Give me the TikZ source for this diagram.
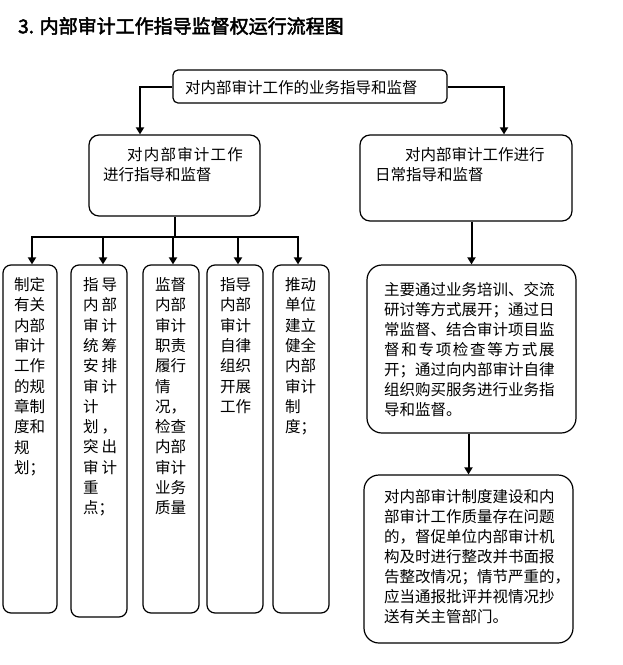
\documentclass[tikz,border=0pt]{standalone}
\usepackage{fontspec}
\setmainfont{Liberation Serif}
\newfontfamily\cjk{Noto Sans CJK SC}
\newfontfamily\cjkb[FakeBold=2.5]{Noto Sans CJK SC}
\usetikzlibrary{arrows.meta}
\newcommand{\spreadchars}[2]{\def\spk{#1}\spreadloop#2\relax}
\def\spreadloop#1#2{#1\ifx\relax#2\else\kern\spk\expandafter\spreadloop\expandafter#2\fi}
\begin{document}
\begin{tikzpicture}[x=1pt,y=-1pt,
  box/.style={draw, line width=1.2pt, rounded corners=#1, inner sep=0pt},
  box/.default=8pt,
  txt/.style={inner sep=0pt, align=left, font=\cjk\fontsize{15.5}{20}\selectfont},
  vtxt/.style={inner sep=0pt, align=left, font=\cjk\fontsize{15.5}{20.3}\selectfont},
  conn/.style={line width=2pt},
  arr/.style={line width=2pt, -{Triangle[length=7pt,width=8pt]}}]
\useasboundingbox (0,0) rectangle (623,665);
\fill[white] (0,0) rectangle (623,665);

% title
\node[anchor=west, inner sep=0pt, font=\cjkb\fontsize{19}{19}\selectfont] (title) at (18,26) {3. 内部审计工作指导监督权运行流程图};

% top box
\node[box=5pt, minimum width=274pt, minimum height=33pt] (T) at (310,86.5) {};
\node[txt, anchor=west] (Tt) at (185,88) {对内部审计工作的业务指导和监督};

% second level
\node[box=10pt, minimum width=171pt, minimum height=81pt] (B2) at (174.5,175.5) {};
\node[txt, anchor=north west] (B2t) at (103,147.3) {\hspace*{24pt}\spreadchars{1.2pt}{对内部审计工作}\\进行指导和监督};

\node[box=10pt, minimum width=212pt, minimum height=86pt] (B3) at (466,178) {};
\node[txt, anchor=north west] (B3t) at (375,147.3) {\hspace*{30pt}对内部审计工作进行\\日常指导和监督};

% right column
\node[box=15pt, minimum width=209pt, minimum height=168pt] (B4) at (471.5,349) {};
\node[txt, anchor=north west] (B4t) at (384,282.3) {主要通过业务培训、交流\\研讨等方式展开；通过日\\常监督、结合审计项目监\\\spreadchars{1.7pt}{督和专项检查等方式展}\\开；通过向内部审计自律\\组织购买服务进行业务指\\导和监督。};

\node[box=15pt, minimum width=209pt, minimum height=168pt] (B5) at (468.5,559) {};
\node[txt, anchor=north west] (B5t) at (384,489.3) {对内部审计制度建设和内\\部审计工作质量存在问题\\的，督促单位内部审计机\\构及时进行整改并书面报\\告整改情况；情节严重的，\\应当通报批评并视情况抄\\送有关主管部门。};

% vertical boxes
\node[box=8pt, minimum width=54pt, minimum height=348pt] (V1) at (30,439) {};
\node[box=8pt, minimum width=56pt, minimum height=352pt] (V2) at (99,441) {};
\node[box=8pt, minimum width=56pt, minimum height=348pt] (V3) at (171,439) {};
\node[box=8pt, minimum width=56pt, minimum height=348pt] (V4) at (235,439) {};
\node[box=8pt, minimum width=56pt, minimum height=348pt] (V5) at (301,439) {};

\node[vtxt, anchor=north west] (V1t) at (14,277.3) {制定\\有关\\内部\\审计\\工作\\的规\\章制\\度和\\规\\划；};
\node[vtxt, anchor=north west] (V2t) at (83,277.3) {指\kern3pt 导\\内\kern3pt 部\\审\kern3pt 计\\统\kern3pt 筹\\安\kern3pt 排\\审\kern3pt 计\\计\\划\kern3pt ，\\突\kern3pt 出\\审\kern3pt 计\\重\\点；};
\node[vtxt, anchor=north west] (V3t) at (155,277.3) {监督\\内部\\审计\\职责\\履行\\情\\况，\\检查\\内部\\审计\\业务\\质量};
\node[vtxt, anchor=north west] (V4t) at (220,277.3) {指导\\内部\\审计\\自律\\组织\\开展\\工作};
\node[vtxt, anchor=north west] (V5t) at (285,277.3) {推动\\单位\\建立\\健全\\内部\\审计\\制\\度；};

% connectors
\coordinate (ja) at (140,0);
\coordinate (jb) at (504,0);
\draw[arr] (T.west) -| (B2.north -| ja);
\draw[arr] (T.east) -| (B3.north -| jb);
\draw[arr] (B3.south -| B4.north) -- (B4.north);
\draw[arr] (B4.south -| B5.north) -- (B5.north);

\coordinate (bar1) at (32,237);
\coordinate (bar2) at (103,237);
\coordinate (bar3) at (173,237);
\coordinate (bar4) at (238,237);
\coordinate (bar5) at (298,237);
\draw[conn] (B2.south) -- (B2.south |- bar3);
\draw[conn, line cap=rect] (bar1) -- (bar5);
\draw[arr] (bar1) -- (bar1 |- V1.north);
\draw[arr] (bar2) -- (bar2 |- V2.north);
\draw[arr] (bar3) -- (bar3 |- V3.north);
\draw[arr] (bar4) -- (bar4 |- V4.north);
\draw[arr] (bar5) -- (bar5 |- V5.north);
\end{tikzpicture}
\end{document}
